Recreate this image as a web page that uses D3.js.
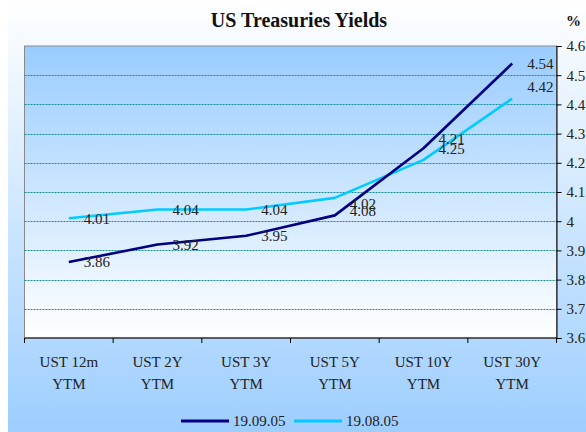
<!DOCTYPE html>
<html>
<head>
<meta charset="utf-8">
<script src="https://cdn.jsdelivr.net/npm/d3@7"></script>
<style>
  body { margin: 0; background: #fff; }
  svg { display: block; font-family: "Liberation Serif", "DejaVu Serif", serif; }
</style>
</head>
<body>
<svg id="chart" width="586" height="432"></svg>
<script>
// categorie e serie
const categories = ["UST 12m YTM", "UST 2Y YTM", "UST 3Y YTM", "UST 5Y YTM", "UST 10Y YTM", "UST 30Y YTM"];
const sep19 = [3.86, 3.92, 3.95, 4.02, 4.25, 4.54];
const aug19 = [4.01, 4.04, 4.04, 4.08, 4.21, 4.42];
const seriesNames = ["19.09.05", "19.08.05"];
const yTicks = [3.6, 3.7, 3.8, 3.9, 4, 4.1, 4.2, 4.3, 4.4, 4.5, 4.6];

// spostamenti verticali delle etichette (px) per evitare sovrapposizioni
const nudgeSep = [0, 0, 0, -12, 1, 0];
const nudgeAug = [0, 0, 0, 13, -21, -12];

const svg = d3.select("#chart");
const W = 586, H = 432;
const plot = { left: 24.5, right: 556.5, top: 46, bottom: 338 };
const fs = 15;

const defs = svg.append("defs");
const outerGrad = defs.append("linearGradient").attr("id", "outerGrad")
  .attr("x1", 0).attr("y1", 0).attr("x2", 0).attr("y2", 1);
outerGrad.append("stop").attr("offset", "0%").attr("stop-color", "#ffffff");
outerGrad.append("stop").attr("offset", "100%").attr("stop-color", "#9dceff");

const plotGrad = defs.append("linearGradient").attr("id", "plotGrad")
  .attr("x1", 0).attr("y1", 0).attr("x2", 0).attr("y2", 1);
plotGrad.append("stop").attr("offset", "0%").attr("stop-color", "#99ccff");
plotGrad.append("stop").attr("offset", "100%").attr("stop-color", "#ffffff");

// sfondo esterno
svg.append("rect").attr("x", 8).attr("y", 0).attr("width", W - 8).attr("height", H)
  .attr("fill", "url(#outerGrad)");

const x = d3.scaleBand().domain(categories).range([plot.left, plot.right]);
const y = d3.scaleLinear().domain([3.6, 4.6]).range([plot.bottom, plot.top]);

// area del grafico
svg.append("rect")
  .attr("x", plot.left).attr("y", plot.top)
  .attr("width", plot.right - plot.left).attr("height", plot.bottom - plot.top)
  .attr("fill", "url(#plotGrad)")
  .attr("stroke", "#8a8a8a").attr("stroke-width", 1);

// griglia tratteggiata
svg.append("g").selectAll("line")
  .data(yTicks.filter((t) => t > 3.6 && t < 4.6))
  .join("line")
  .attr("x1", plot.left).attr("x2", plot.right)
  .attr("y1", (d) => Math.round(y(d)) + 0.5).attr("y2", (d) => Math.round(y(d)) + 0.5)
  .attr("stroke", "#1a8c94").attr("stroke-width", 1)
  .attr("stroke-dasharray", "2,1");

// asse y a destra
const yAxis = svg.append("g")
  .attr("transform", `translate(${plot.right},0)`)
  .call(d3.axisRight(y).tickValues(yTicks).tickFormat(d3.format("")).tickSize(5).tickPadding(5));
yAxis.select(".domain").attr("stroke", "#000");
yAxis.selectAll("text").attr("font-size", fs).attr("fill", "#222")
  .attr("font-family", "Liberation Serif, serif");

// asse x con tacche ai bordi delle categorie
const xAxisG = svg.append("g");
xAxisG.append("line")
  .attr("x1", plot.left).attr("x2", plot.right)
  .attr("y1", plot.bottom).attr("y2", plot.bottom)
  .attr("stroke", "#000");
const edges = categories.map((c) => x(c)).concat([x(categories[categories.length - 1]) + x.bandwidth()]);
xAxisG.selectAll(".tick").data(edges).join("line")
  .attr("class", "tick")
  .attr("x1", (d) => d).attr("x2", (d) => d)
  .attr("y1", plot.bottom).attr("y2", plot.bottom + 5)
  .attr("stroke", "#000");
xAxisG.selectAll(".cat").data(categories).join("text")
  .attr("class", "cat")
  .attr("x", (d) => x(d) + x.bandwidth() / 2)
  .attr("y", plot.bottom + 29)
  .attr("text-anchor", "middle")
  .attr("font-size", fs).attr("fill", "#222")
  .each(function (d) {
    const parts = d.split(" ");
    const t = d3.select(this);
    t.append("tspan").attr("x", x(d) + x.bandwidth() / 2).text(parts.slice(0, 2).join(" "));
    t.append("tspan").attr("x", x(d) + x.bandwidth() / 2).attr("dy", 22).text(parts[2]);
  });

// linee delle serie
const series = [
  { name: seriesNames[0], values: sep19, color: "#000080", nudge: nudgeSep },
  { name: seriesNames[1], values: aug19, color: "#00ccff", nudge: nudgeAug }
];
const cx = (i) => x(categories[i]) + x.bandwidth() / 2;
const line = d3.line().x((d, i) => cx(i)).y((d) => y(d));

// prima la serie agosto, poi settembre sopra
[series[1], series[0]].forEach((s) => {
  svg.append("path")
    .datum(s.values)
    .attr("fill", "none")
    .attr("stroke", s.color)
    .attr("stroke-width", 2.6)
    .attr("stroke-linejoin", "round")
    .attr("d", line);
});

series.forEach((s) => {
  svg.append("g").selectAll("text")
    .data(s.values)
    .join("text")
    .attr("x", (d, i) => cx(i) + 15)
    .attr("y", (d, i) => y(d) + s.nudge[i])
    .attr("dy", "0.35em")
    .attr("font-size", fs).attr("fill", "#222")
    .text((d) => d3.format(".2f")(d));
});

// titolo
svg.append("text").attr("x", 299).attr("y", 27)
  .attr("text-anchor", "middle").attr("font-weight", "bold").attr("font-size", 20)
  .attr("fill", "#111").text("US Treasuries Yields");
svg.append("text").attr("x", 566).attr("y", 26)
  .attr("font-weight", "bold").attr("font-size", 15)
  .attr("fill", "#111").text("%");

// legenda
const legend = svg.append("g").attr("transform", "translate(181,421)");
let lx = 0;
series.forEach((s) => {
  legend.append("line").attr("x1", lx).attr("x2", lx + 48).attr("y1", 0).attr("y2", 0)
    .attr("stroke", s.color).attr("stroke-width", 3);
  legend.append("text").attr("x", lx + 52).attr("y", 0).attr("dy", "0.35em")
    .attr("font-size", fs).attr("fill", "#222").text(s.name);
  lx += 113;
});
</script>
</body>
</html>
